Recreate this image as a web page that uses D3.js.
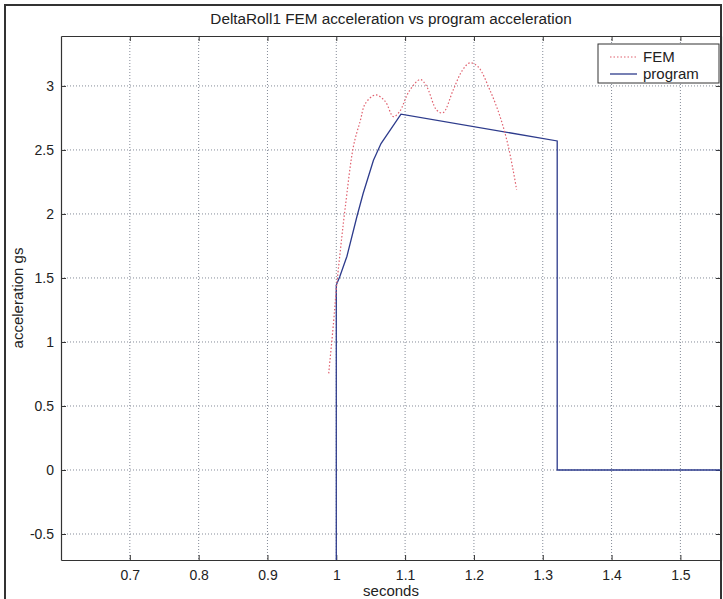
<!DOCTYPE html>
<html><head><meta charset="utf-8">
<script src="https://cdn.jsdelivr.net/npm/d3@7"></script>
<style>
html,body{margin:0;padding:0;background:#fff;}
svg{display:block;font-family:"Liberation Sans",Arial,sans-serif;}
</style></head>
<body>
<svg id="chart" width="723" height="599"></svg>
<script>
const title = "DeltaRoll1 FEM acceleration vs program acceleration";
const xLabel = "seconds";
const yLabel = "acceleration gs";
const xTicks = [0.7, 0.8, 0.9, 1.0, 1.1, 1.2, 1.3, 1.4, 1.5];
const yTicks = [-0.5, 0, 0.5, 1, 1.5, 2, 2.5, 3];
const seriesNames = ["FEM", "program"];

const femX = [0.989, 0.996, 1.0, 1.006, 1.013, 1.025, 1.035, 1.042, 1.057, 1.071, 1.083, 1.092, 1.106, 1.122, 1.131, 1.146, 1.155, 1.170, 1.183, 1.194, 1.206, 1.223, 1.238, 1.249, 1.257, 1.262];
const femY = [0.755, 1.15, 1.41, 1.72, 2.05, 2.53, 2.73, 2.86, 2.93, 2.88, 2.76, 2.80, 2.96, 3.05, 3.00, 2.81, 2.79, 2.97, 3.12, 3.18, 3.15, 2.97, 2.76, 2.55, 2.34, 2.19];

const progX = [1.0, 1.0, 1.005, 1.0155, 1.030, 1.039, 1.054, 1.065, 1.094, 1.321, 1.321, 1.60];
const progY = [-1.0, 1.445, 1.51, 1.67, 1.98, 2.16, 2.42, 2.55, 2.78, 2.57, 0, 0];

const svg = d3.select("#chart");
const L = 61, R = 721, T = 36, B = 560;

// outer figure frame
svg.append("rect").attr("x", 5).attr("y", 5).attr("width", 716).attr("height", 600)
  .attr("fill", "none").attr("stroke", "#333").attr("stroke-width", 2);

const x = d3.scaleLinear().domain([0.6, 1.559]).range([L, R]);
const y = d3.scaleLinear().domain([-0.703, 3.39]).range([B, T]);

svg.append("defs").append("clipPath").attr("id", "clip")
  .append("rect").attr("x", L).attr("y", T).attr("width", R - L).attr("height", B - T);

// grid
const grid = svg.append("g");
grid.selectAll("line.gx").data(xTicks).join("line")
  .attr("x1", d => x(d)).attr("x2", d => x(d)).attr("y1", T).attr("y2", B)
  .attr("stroke", "#858b98").attr("stroke-width", 1).attr("stroke-dasharray", "1,2");
grid.selectAll("line.gy").data(yTicks).join("line")
  .attr("y1", d => y(d)).attr("y2", d => y(d)).attr("x1", L).attr("x2", R)
  .attr("stroke", "#858b98").attr("stroke-width", 1).attr("stroke-dasharray", "1,2");

// axes (inward ticks)
const fmt = d => String(+d.toFixed(2));
const axB = svg.append("g").attr("transform", `translate(0,${B})`)
  .call(d3.axisBottom(x).tickValues(xTicks).tickFormat(fmt).tickSizeInner(-5).tickSizeOuter(0).tickPadding(10));
const axT = svg.append("g").attr("transform", `translate(0,${T})`)
  .call(d3.axisTop(x).tickValues(xTicks).tickFormat("").tickSizeInner(-5).tickSizeOuter(0));
const axL = svg.append("g").attr("transform", `translate(${L},0)`)
  .call(d3.axisLeft(y).tickValues(yTicks).tickFormat(fmt).tickSizeInner(-5).tickSizeOuter(0).tickPadding(7));
const axR = svg.append("g").attr("transform", `translate(${R},0)`)
  .call(d3.axisRight(y).tickValues(yTicks).tickFormat("").tickSizeInner(-5).tickSizeOuter(0));
[axB, axT, axL, axR].forEach(a => {
  a.selectAll("path.domain").attr("stroke", "#333").attr("stroke-width", 1.2);
  a.selectAll(".tick line").attr("stroke", "#333");
  a.selectAll("text").attr("font-family", "Liberation Sans, Arial, sans-serif").attr("font-size", 14).attr("fill", "#222");
});

// lines
const line = d3.line().x(d => x(d[0])).y(d => y(d[1]));
const plot = svg.append("g").attr("clip-path", "url(#clip)");
const progData = progX.map((v, i) => [v, progY[i]]);
const femData = femX.map((v, i) => [v, femY[i]]);
plot.append("path").datum(progData)
  .attr("d", line).attr("fill", "none").attr("stroke", "#2d3b8c").attr("stroke-width", 1.3);
plot.append("path").datum(femData)
  .attr("d", line.curve(d3.curveCatmullRom)).attr("fill", "none")
  .attr("stroke", "#e0606e").attr("stroke-width", 1.2).attr("stroke-dasharray", "1.5,2");

// title & labels
svg.append("text").attr("x", (L + R) / 2).attr("y", 23.5).attr("text-anchor", "middle")
  .attr("font-size", 15.3).attr("fill", "#222").text(title);
svg.append("text").attr("x", (L + R) / 2).attr("y", 596).attr("text-anchor", "middle")
  .attr("font-size", 15).attr("fill", "#222").text(xLabel);
svg.append("text").attr("transform", `translate(23,${(T + B) / 2}) rotate(-90)`)
  .attr("text-anchor", "middle").attr("font-size", 15).attr("fill", "#222").text(yLabel);

// legend
const lg = svg.append("g");
lg.append("rect").attr("x", 598).attr("y", 44).attr("width", 121).attr("height", 39)
  .attr("fill", "#fff").attr("stroke", "#333").attr("stroke-width", 1);
const legStyles = [
  {stroke: "#e0606e", dash: "1.5,2", w: 1.2},
  {stroke: "#2d3b8c", dash: null, w: 1.3}
];
seriesNames.forEach((n, i) => {
  const yy = 57 + i * 17;
  lg.append("line").attr("x1", 610).attr("x2", 637).attr("y1", yy).attr("y2", yy)
    .attr("stroke", legStyles[i].stroke).attr("stroke-width", legStyles[i].w)
    .attr("stroke-dasharray", legStyles[i].dash);
  lg.append("text").attr("x", 643).attr("y", yy + 5).attr("font-size", 15).attr("fill", "#222").text(n);
});
</script>
</body></html>
